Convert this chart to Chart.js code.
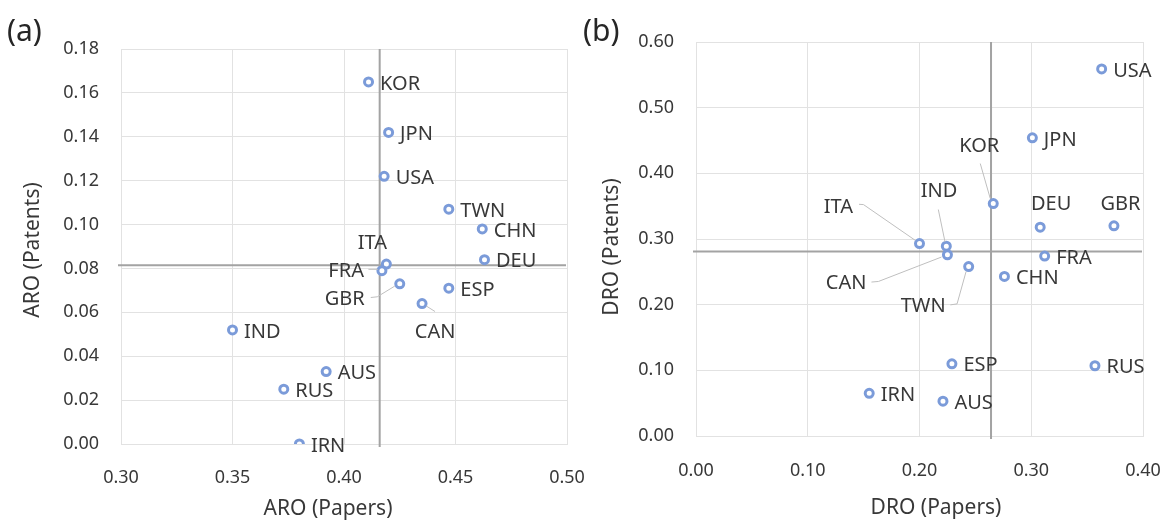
<!DOCTYPE html>
<html><head><meta charset="utf-8">
<script src="https://cdn.jsdelivr.net/npm/chart.js@4.4.0/dist/chart.umd.min.js"></script>
<style>
html,body{margin:0;padding:0;background:#fff;overflow:hidden;}
#wrapA{position:absolute;left:0;top:0;width:610px;height:523px;z-index:1;}
#wrapB{position:absolute;left:580px;top:0;width:587px;height:523px;z-index:2;}
</style></head><body>
<div id="wrapA"><canvas id="cA"></canvas></div>
<div id="wrapB"><canvas id="cB"></canvas></div>
<script>
// ---------- DATA ----------
const countriesA = ["KOR","JPN","USA","TWN","CHN","DEU","ITA","FRA","GBR","ESP","CAN","IND","AUS","RUS","IRN"];
const aroPapers  = [0.411,0.420,0.418,0.447,0.462,0.463,0.419,0.417,0.425,0.447,0.435,0.350,0.392,0.373,0.380];
const aroPatents = [0.165,0.142,0.122,0.107,0.098,0.084,0.082,0.079,0.073,0.071,0.064,0.052,0.033,0.025,0.000];
const aroMean    = [0.416, 0.0815];
const aroXTicks  = [0.30,0.35,0.40,0.45,0.50];
const aroYTicks  = [0.00,0.02,0.04,0.06,0.08,0.10,0.12,0.14,0.16,0.18];

const countriesB = ["USA","JPN","KOR","DEU","GBR","ITA","IND","CAN","FRA","TWN","CHN","ESP","RUS","IRN","AUS"];
const droPapers  = [0.363,0.301,0.266,0.308,0.374,0.200,0.224,0.225,0.312,0.244,0.276,0.229,0.357,0.155,0.221];
const droPatents = [0.559,0.454,0.354,0.318,0.320,0.293,0.289,0.276,0.274,0.258,0.243,0.110,0.107,0.065,0.053];
const droMean    = [0.264, 0.281];
const droXTicks  = [0.00,0.10,0.20,0.30,0.40];
const droYTicks  = [0.00,0.10,0.20,0.30,0.40,0.50,0.60];

// ---------- STYLE ----------
const FONT = "'Noto Sans', 'DejaVu Sans', sans-serif";
Chart.defaults.font.family = FONT;
const TEXT = '#383838';
const GRID = '#e2e2e2';
const MEAN = '#a3a3a3';
const LEADER = '#bfbfbf';
const MARKER = '#7b9bd9';
const DEF = {dx: 11.5, dy: 2, align: 'left'};

const layoutA = {
  ITA: {dx: -14, dy: -21, align: 'center'},
  FRA: {dx: -18, dy: 1, align: 'right', leader: [[-13.5,-1.3],[-4,-1.3]]},
  GBR: {dx: -35, dy: 15.5, align: 'right', leader: [[-29,13.7],[-22.5,13],[-5,2.3]]},
  CAN: {dx: 13, dy: 28.5, align: 'center', leader: [[4,2.3],[13,8]]}
};
const layoutB = {
  KOR: {dx: -14, dy: -57, align: 'center', leader: [[-13,-40],[-3,-5]]},
  DEU: {dx: 11, dy: -23, align: 'center'},
  GBR: {dx: 6.5, dy: -22, align: 'center'},
  ITA: {dx: -66.5, dy: -36, align: 'right', leader: [[-60.5,-39.3],[-56,-39],[-4.3,-3.3]]},
  IND: {dx: -7.3, dy: -55.3, align: 'center', leader: [[-8,-36.7],[-1.3,-4.3]]},
  CAN: {dx: -81, dy: 28.3, align: 'right', leader: [[-76,27.3],[-69,26.7],[-6,2.3]]},
  TWN: {dx: -23, dy: 40, align: 'right', leader: [[-18.3,38.3],[-11.6,37.3],[-2.6,5]]}
};

function overlay(cfg) {
  return {
    id: 'overlay',
    beforeDatasetsDraw(chart) {
      const {ctx, chartArea: a, scales: {x, y}} = chart;
      const mx = x.getPixelForValue(cfg.mean[0]);
      const my = y.getPixelForValue(cfg.mean[1]);
      ctx.save();
      ctx.strokeStyle = MEAN; ctx.lineWidth = 2;
      ctx.beginPath();
      ctx.moveTo(mx, a.top); ctx.lineTo(mx, a.bottom + 3);
      ctx.moveTo(a.left - 3, my); ctx.lineTo(a.right - 1, my);
      ctx.stroke();
      ctx.restore();
    },
    afterDatasetsDraw(chart) {
      const {ctx} = chart;
      const meta = chart.getDatasetMeta(0);
      ctx.save();
      ctx.font = "20px " + FONT;
      ctx.fillStyle = TEXT;
      ctx.textBaseline = 'middle';
      cfg.names.forEach((n, i) => {
        const el = meta.data[i];
        const L = cfg.layout[n] || DEF;
        if (L.leader) {
          ctx.strokeStyle = LEADER; ctx.lineWidth = 1;
          ctx.beginPath();
          L.leader.forEach((p, k) => {
            if (k === 0) ctx.moveTo(el.x + p[0], el.y + p[1]);
            else ctx.lineTo(el.x + p[0], el.y + p[1]);
          });
          ctx.stroke();
        }
        ctx.textAlign = L.align;
        ctx.fillText(n, el.x + L.dx, el.y + L.dy);
      });
      ctx.restore();
    },
    afterDraw(chart) {
      const {ctx} = chart;
      ctx.save();
      ctx.fillStyle = '#262626';
      ctx.textBaseline = 'middle';
      ctx.textAlign = 'left';
      ctx.font = "30px " + FONT;
      ctx.fillText(cfg.letter, cfg.letterPos[0], cfg.letterPos[1]);
      ctx.fillStyle = TEXT;
      ctx.font = "21px " + FONT;
      ctx.textAlign = 'center';
      ctx.fillText(cfg.xTitle, cfg.xTitlePos[0], cfg.xTitlePos[1]);
      ctx.translate(cfg.yTitlePos[0], cfg.yTitlePos[1]);
      ctx.rotate(-Math.PI / 2);
      ctx.fillText(cfg.yTitle, 0, 0);
      ctx.restore();
    }
  };
}

function makeChart(id, cfg) {
  const pts = cfg.xs.map((x, i) => ({x: x, y: cfg.ys[i]}));
  return new Chart(document.getElementById(id), {
    type: 'scatter',
    data: {datasets: [{
      data: pts, pointStyle: 'circle', pointRadius: 4, pointHoverRadius: 4,
      pointBorderWidth: 3, pointHoverBorderWidth: 3,
      borderColor: MARKER, backgroundColor: '#ffffff', showLine: false
    }]},
    options: {
      responsive: true, maintainAspectRatio: false, animation: false, events: [],
      layout: {padding: cfg.padding},
      plugins: {legend: {display: false}, tooltip: {enabled: false}},
      scales: {
        x: {
          type: 'linear', min: cfg.xTicks[0], max: cfg.xTicks[cfg.xTicks.length - 1],
          afterBuildTicks: s => { s.ticks = cfg.xTicks.map(v => ({value: v})); },
          afterFit: s => { s.height = cfg.xH; s.paddingLeft = 0; s.paddingRight = 0; },
          ticks: {callback: v => Number(v).toFixed(2), padding: cfg.xPad, color: TEXT,
                  font: {size: 18}, maxRotation: 0, autoSkip: false},
          grid: {color: GRID, drawTicks: false, lineWidth: 1},
          border: {color: GRID}
        },
        y: {
          type: 'linear', min: cfg.yTicks[0], max: cfg.yTicks[cfg.yTicks.length - 1],
          afterBuildTicks: s => { s.ticks = cfg.yTicks.map(v => ({value: v})); },
          afterFit: s => { s.width = cfg.yW; s.paddingTop = 0; s.paddingBottom = 0; },
          ticks: {callback: v => Number(v).toFixed(2), padding: 22, color: TEXT,
                  font: {size: 18}, autoSkip: false},
          grid: {color: GRID, drawTicks: false, lineWidth: 1},
          border: {color: GRID}
        }
      }
    },
    plugins: [overlay(cfg)]
  });
}

makeChart('cA', {
  names: countriesA, xs: aroPapers, ys: aroPatents, mean: aroMean,
  xTicks: aroXTicks, yTicks: aroYTicks, layout: layoutA,
  padding: {top: 49, right: 43, left: 0, bottom: 0}, yW: 121, xH: 79, xPad: 23,
  letter: '(a)', letterPos: [7, 32],
  xTitle: 'ARO (Papers)', xTitlePos: [328, 509],
  yTitle: 'ARO (Patents)', yTitlePos: [33, 250]
});
makeChart('cB', {
  names: countriesB, xs: droPapers, ys: droPatents, mean: droMean,
  xTicks: droXTicks, yTicks: droYTicks, layout: layoutB,
  padding: {top: 42, right: 24, left: 0, bottom: 0}, yW: 116, xH: 87, xPad: 24,
  letter: '(b)', letterPos: [3, 32],
  xTitle: 'DRO (Papers)', xTitlePos: [356, 508],
  yTitle: 'DRO (Patents)', yTitlePos: [32, 247]
});
</script>
</body></html>
